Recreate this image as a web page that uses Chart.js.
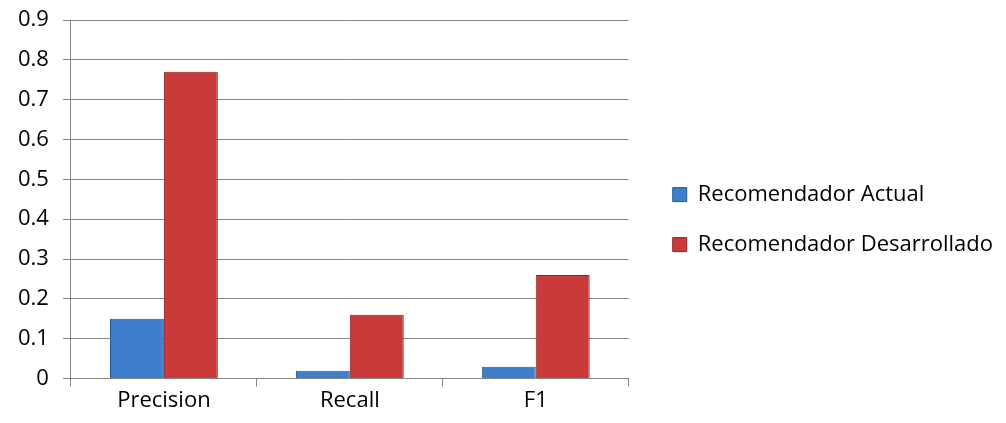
<!DOCTYPE html>
<html>
<head>
<meta charset="utf-8">
<script src="https://cdn.jsdelivr.net/npm/chart.js@4"></script>
<style>
  html, body { margin: 0; padding: 0; background: #fff; }
  #wrap { width: 1006px; height: 423px; position: relative; }
</style>
</head>
<body>
<div id="wrap"><canvas id="grafica"></canvas></div>
<script>
'use strict';

/* ── DATOS ── */
const categorias = ['Precision', 'Recall', 'F1'];
const actual      = [0.15, 0.02, 0.03];
const desarrollado = [0.77, 0.16, 0.26];
const nombres = ['Recomendador Actual', 'Recomendador Desarrollado'];

const FUENTE = "'Open Sans', Lato, sans-serif";
const TAM = 22;

/* Relleno con degradado horizontal para simular el biselado */
function degradado(colores) {
  return (ctx) => {
    const el = ctx.element;
    const chart = ctx.chart;
    if (!el || !chart.chartArea || el.width === undefined) return colores[1];
    const x0 = el.x - el.width / 2, x1 = el.x + el.width / 2;
    const g = chart.ctx.createLinearGradient(x0, 0, x1, 0);
    g.addColorStop(0, colores[0]);
    g.addColorStop(0.12, colores[1]);
    g.addColorStop(0.85, colores[1]);
    g.addColorStop(1, colores[2]);
    return g;
  };
}

/* Separa la leyenda del área de trazado, como en el original */
const separarLeyenda = {
  id: 'separarLeyenda',
  afterLayout(chart) {
    const ley = chart.legend;
    if (!ley) return;
    const desplazamiento = chart.chartArea.right + 16 - ley.left;
    ley.left += desplazamiento;
    ley.right += desplazamiento;
  }
};

new Chart(document.getElementById('grafica'), {
  type: 'bar',
  data: {
    labels: categorias,
    datasets: [
      {
        label: nombres[0],
        data: actual,
        backgroundColor: degradado(['#5b98e0', '#3f7ecb', '#2d62a6']),
        borderColor: '#2a5a96',
        borderWidth: 1,
        categoryPercentage: 0.58,
        barPercentage: 1.0,
      },
      {
        label: nombres[1],
        data: desarrollado,
        backgroundColor: degradado(['#e05656', '#c93b3b', '#9e2929']),
        borderColor: '#8e2424',
        borderWidth: 1,
        categoryPercentage: 0.58,
        barPercentage: 1.0,
      }
    ]
  },
  plugins: [separarLeyenda],
  options: {
    responsive: true,
    maintainAspectRatio: false,
    animation: false,
    layout: { padding: { left: 4, top: 0, right: 19, bottom: 8 } },
    plugins: {
      tooltip: { enabled: false },
      legend: {
        position: 'right',
        maxWidth: 420,
        title: { display: true, text: ' ', color: '#000', font: { size: 1 }, padding: { top: 23, bottom: 0 } },
        labels: {
          color: '#000',
          font: { family: FUENTE, size: TAM },
          boxWidth: 14,
          boxHeight: 14,
          padding: 28,
          generateLabels: (chart) => chart.data.datasets.map((ds, i) => ({
            text: ds.label,
            fontColor: '#000',
            fillStyle: i === 0 ? '#3f7ecb' : '#c93b3b',
            strokeStyle: i === 0 ? '#2a5a96' : '#8e2424',
            lineWidth: 1,
            datasetIndex: i,
          })),
        }
      }
    },
    scales: {
      x: {
        grid: {
          offset: true,
          drawOnChartArea: false,
          drawTicks: true,
          tickLength: 8,
          color: '#868686',
        },
        border: { color: '#868686' },
        ticks: { color: '#000', font: { family: FUENTE, size: TAM }, padding: 1 }
      },
      y: {
        min: 0,
        max: 0.9,
        afterFit: (escala) => { escala.paddingTop = 20; },
        ticks: {
          stepSize: 0.1,
          color: '#000',
          font: { family: FUENTE, size: TAM },
          padding: 14,
          callback: (v) => (Math.round(v * 10) / 10).toString(),
        },
        grid: { color: '#868686', tickLength: 8 },
        border: { color: '#868686' }
      }
    }
  }
});
</script>
</body>
</html>
